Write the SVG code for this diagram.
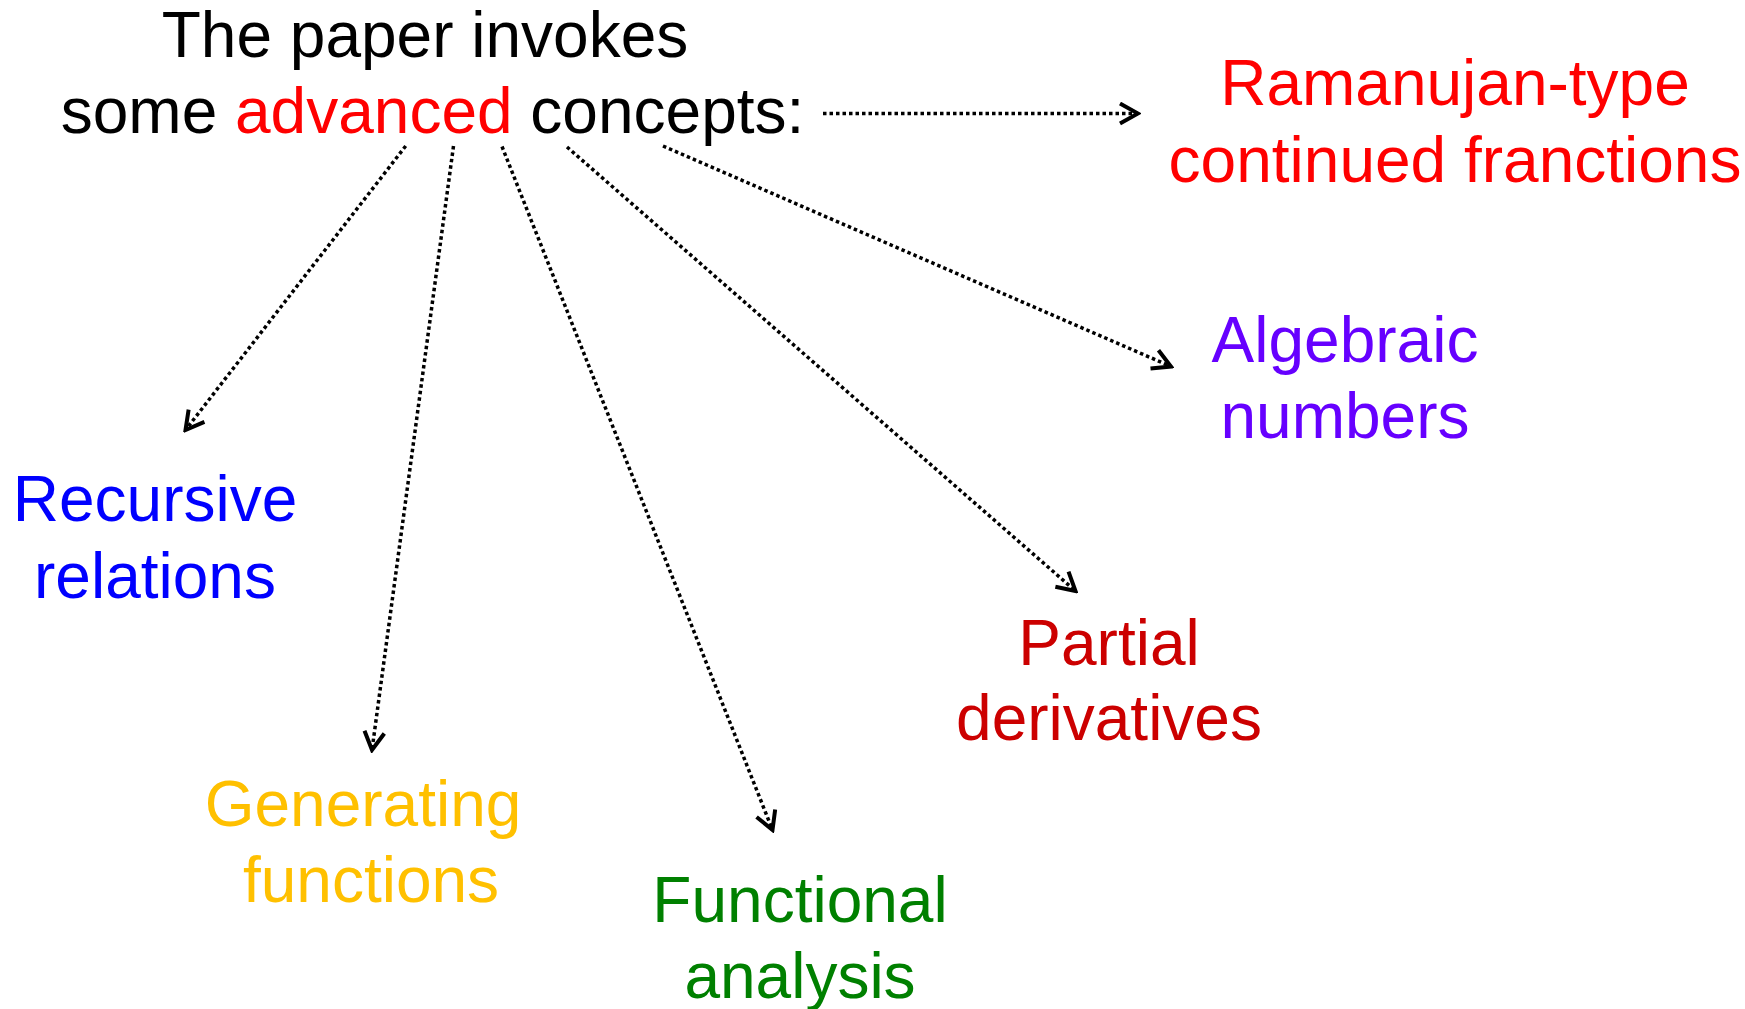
<svg xmlns="http://www.w3.org/2000/svg" width="1745" height="1009" viewBox="0 0 1745 1009">
  <style>
    text { font-family: "Liberation Sans", Arial, sans-serif; font-size: 64px; text-anchor: middle; }
    .conn { fill: none; stroke: #000; stroke-width: 3.5; stroke-dasharray: 3.5 3; }
  </style>
  <defs>
    <marker id="arr" viewBox="0 0 24 24" markerWidth="24" markerHeight="24" refX="21" refY="12" orient="auto" markerUnits="userSpaceOnUse">
      <path d="M3,2 L21,12 L3,22" fill="none" stroke="#000" stroke-width="4" stroke-linejoin="miter"/>
    </marker>
  </defs>
  <rect width="1745" height="1009" fill="#fff"/>

  <g id="connectors">
    <line class="conn" x1="823" y1="113.5" x2="1138" y2="113.5" marker-end="url(#arr)"/>
    <line class="conn" x1="663" y1="146" x2="1171" y2="366.5" marker-end="url(#arr)"/>
    <line class="conn" x1="567" y1="147" x2="1075.5" y2="591" marker-end="url(#arr)"/>
    <line class="conn" x1="502" y1="146.5" x2="772.5" y2="830" marker-end="url(#arr)"/>
    <line class="conn" x1="453.5" y1="146" x2="372" y2="750" marker-end="url(#arr)"/>
    <line class="conn" x1="405.7" y1="146" x2="185.5" y2="430" marker-end="url(#arr)"/>
  </g>

  <g id="title">
    <text x="425" y="57" fill="#000">The paper invokes</text>
    <text x="432.5" y="133" fill="#000">some <tspan fill="#FF0000">advanced</tspan> concepts:</text>
  </g>

  <g id="ramanujan">
    <text x="1455" y="105" fill="#FF0000">Ramanujan-type</text>
    <text x="1455" y="182" fill="#FF0000">continued franctions</text>
  </g>

  <g id="algebraic">
    <text x="1345" y="362" fill="#6600FF">Algebraic</text>
    <text x="1345" y="438" fill="#6600FF">numbers</text>
  </g>

  <g id="recursive">
    <text x="155" y="521" fill="#0000FF">Recursive</text>
    <text x="155" y="598" fill="#0000FF">relations</text>
  </g>

  <g id="generating">
    <text x="363" y="826" fill="#FFC000">Generating</text>
    <text x="371" y="902" fill="#FFC000">functions</text>
  </g>

  <g id="functional">
    <text x="800" y="922" fill="#008000">Functional</text>
    <text x="800" y="998" fill="#008000">analysis</text>
  </g>

  <g id="partial">
    <text x="1109" y="665" fill="#CC0000">Partial</text>
    <text x="1109" y="740" fill="#CC0000">derivatives</text>
  </g>
</svg>
